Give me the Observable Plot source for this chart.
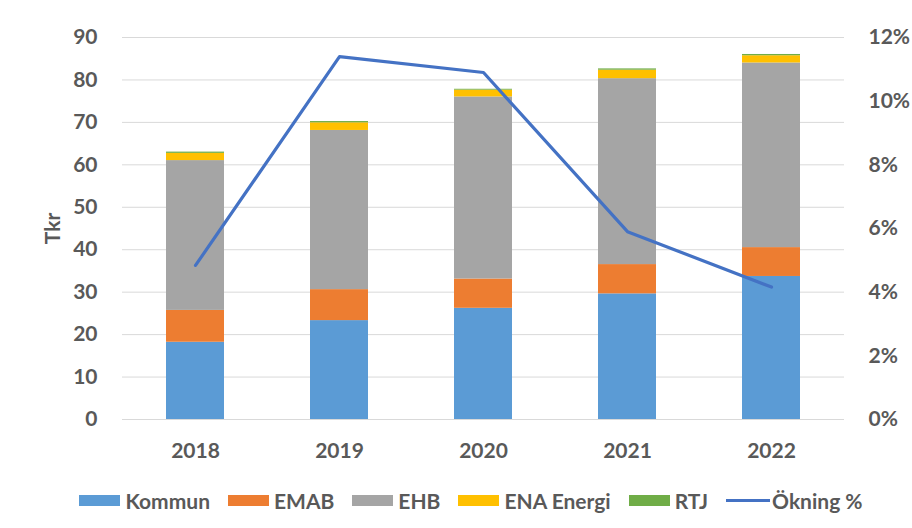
<!DOCTYPE html>
<html><head><meta charset="utf-8">
<script src="https://cdn.jsdelivr.net/npm/d3@7"></script>
<script src="https://cdn.jsdelivr.net/npm/@observablehq/plot@0.6"></script>
<style>
body{margin:0;background:#fff;font-family:Lato,sans-serif;}
#chart{position:relative;width:912px;height:470px;}
#chart svg{position:absolute;left:0;top:0;background:transparent;}
#legend{display:flex;justify-content:center;align-items:center;gap:18px;width:882px;padding-left:30px;height:40px;margin-top:10px;font:bold 21px Lato,sans-serif;color:#595959;}
#legend .item{display:flex;align-items:center;gap:5px;white-space:nowrap;}
#legend .sw{width:41px;height:11px;}
#legend .ln{width:44px;height:3px;}
</style></head><body>
<div id="chart"></div>
<div id="legend"></div>
<script>
const years = ["2018", "2019", "2020", "2021", "2022"];
const series = ["Kommun", "EMAB", "EHB", "ENA Energi", "RTJ"];
const kommun = [18.2, 23.3, 26.2, 29.6, 33.7];
const emab = [7.5, 7.3, 6.9, 6.9, 6.8];
const ehb = [35.3, 37.5, 42.9, 43.8, 43.5];
const enaEnergi = [1.7, 1.8, 1.6, 2.0, 1.7];
const rtj = [0.3, 0.3, 0.2, 0.3, 0.3];
const okning = [4.84, 11.4, 10.9, 5.9, 4.16];
const lineName = "Ökning %";
const leftTicks = [0, 10, 20, 30, 40, 50, 60, 70, 80, 90];
const rightTicks = [0, 2, 4, 6, 8, 10, 12];
const barColors = ["#5B9BD5", "#ED7D31", "#A5A5A5", "#FFC000", "#70AD47"];
const lineColor = "#4472C4";

const seriesValues = [kommun, emab, ehb, enaEnergi, rtj];
const rows = [];
series.forEach((s, i) => years.forEach((y, j) => rows.push({series: s, year: y, value: seriesValues[i][j]})));
const lineRows = years.map((y, j) => ({year: y, pct: okning[j]}));

const common = {
  width: 912, height: 470,
  marginLeft: 122, marginRight: 68, marginTop: 37, marginBottom: 51,
  style: {fontFamily: "Lato, sans-serif", fontSize: "21px", fontWeight: "bold", color: "#595959", background: "transparent"}
};

const bars = Plot.plot({
  ...common,
  x: {domain: years, paddingInner: 0.6, paddingOuter: 0.3, label: null},
  y: {domain: [0, 90], label: null},
  color: {domain: series, range: barColors},
  marks: [
    Plot.gridY(leftTicks, {stroke: "#d9d9d9", strokeOpacity: 1, strokeWidth: 1}),
    Plot.barY(rows, {x: "year", y: "value", fill: "series"}),
    Plot.axisX({tickSize: 0, tickPadding: 24, label: null}),
    Plot.axisY(leftTicks, {tickSize: 0, tickPadding: 25, label: "Tkr", labelAnchor: "center", labelArrow: "none", labelOffset: 77})
  ]
});

const line = Plot.plot({
  ...common,
  x: {type: "point", domain: years, padding: 0.5, axis: null},
  y: {domain: [0, 12], label: null},
  marks: [
    Plot.line(lineRows, {x: "year", y: "pct", stroke: lineColor, strokeWidth: 3.2}),
    Plot.axisY(rightTicks, {anchor: "right", tickSize: 0, tickPadding: 24, tickFormat: d => d + "%", label: null})
  ]
});

const chart = document.getElementById("chart");
chart.appendChild(bars);
chart.appendChild(line);

const legend = document.getElementById("legend");
series.forEach((s, i) => {
  const it = document.createElement("div"); it.className = "item";
  const sw = document.createElement("div"); sw.className = "sw"; sw.style.background = barColors[i];
  const tx = document.createElement("span"); tx.textContent = s;
  it.appendChild(sw); it.appendChild(tx); legend.appendChild(it);
});
{
  const it = document.createElement("div"); it.className = "item"; it.style.gap = "2px";
  const ln = document.createElement("div"); ln.className = "ln"; ln.style.background = lineColor;
  const tx = document.createElement("span"); tx.textContent = lineName;
  it.appendChild(ln); it.appendChild(tx); legend.appendChild(it);
}
</script>
</body></html>
